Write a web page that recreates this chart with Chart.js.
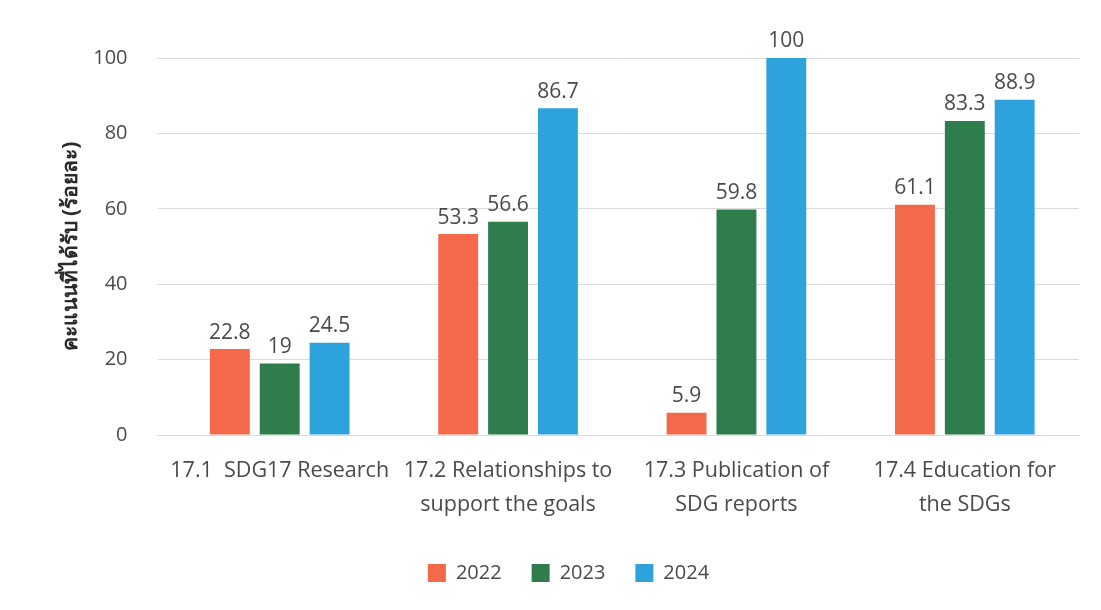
<!DOCTYPE html>
<html>
<head>
<meta charset="utf-8">
<script src="https://cdn.jsdelivr.net/npm/chart.js@4.4.1/dist/chart.umd.min.js"></script>
<style>
  html, body { margin: 0; padding: 0; background: #fff; }
  #wrap { width: 1101px; height: 610px; }
</style>
</head>
<body>
<div id="wrap"><canvas id="sdgChart" width="1101" height="610"></canvas></div>
<script>
// categories (multi-line labels) and the three yearly series
const categories = [
    ['17.1  SDG17 Research'],
    ['17.2 Relationships to', 'support the goals'],
    ['17.3 Publication of', 'SDG reports'],
    ['17.4 Education for', 'the SDGs']
];
const years = ['2022', '2023', '2024'];
const values2022 = [22.8, 53.3, 5.9, 61.1];
const values2023 = [19, 56.6, 59.8, 83.3];
const values2024 = [24.5, 86.7, 100, 88.9];
const yTicks = [0, 20, 40, 60, 80, 100];

const barColors = ['#f4694a', '#2f7c4c', '#2ea2dc'];
const textColor = '#4a4a4a';
const fontFamily = "'Open Sans', 'Noto Sans', 'DejaVu Sans', sans-serif";

// draws the value above each bar
const valueLabels = {
    id: 'valueLabels',
    afterDatasetsDraw(chart) {
        const ctx = chart.ctx;
        ctx.save();
        ctx.font = '21px ' + fontFamily;
        ctx.fillStyle = textColor;
        ctx.textAlign = 'center';
        ctx.textBaseline = 'bottom';
        chart.data.datasets.forEach((ds, i) => {
            chart.getDatasetMeta(i).data.forEach((bar, j) => {
                ctx.fillText(String(ds.data[j]), bar.x, bar.y - 6);
            });
        });
        ctx.restore();
    }
};

new Chart(document.getElementById('sdgChart').getContext('2d'), {
    type: 'bar',
    data: {
        labels: categories,
        datasets: [
            { label: years[0], data: values2022, backgroundColor: barColors[0] },
            { label: years[1], data: values2023, backgroundColor: barColors[1] },
            { label: years[2], data: values2024, backgroundColor: barColors[2] }
        ]
    },
    options: {
        responsive: false,
        animation: false,
        devicePixelRatio: 1,
        layout: { padding: { top: 58, right: 22, left: 58, bottom: 17 } },
        datasets: {
            bar: { categoryPercentage: 0.655, barPercentage: 0.8 }
        },
        plugins: {
            legend: {
                position: 'bottom',
                labels: {
                    color: textColor,
                    font: { family: fontFamily, size: 20 },
                    boxWidth: 18,
                    boxHeight: 18,
                    padding: 30
                }
            },
            tooltip: { enabled: false }
        },
        scales: {
            x: {
                grid: { display: false },
                border: { display: false },
                ticks: {
                    color: textColor,
                    font: { family: fontFamily, size: 21.5, lineHeight: 1.58 },
                    maxRotation: 0,
                    autoSkip: false,
                    padding: 11
                }
            },
            y: {
                min: 0,
                max: 100,
                afterBuildTicks(axis) {
                    axis.ticks = yTicks.map(v => ({ value: v }));
                },
                grid: { color: '#dcdcdc', lineWidth: 1 },
                border: { display: false },
                ticks: {
                    color: textColor,
                    font: { family: fontFamily, size: 20 },
                    padding: 30
                },
                title: {
                    display: true,
                    text: 'คะแนนที่ได้รับ (ร้อยละ)',
                    color: '#2a2a2a',
                    font: { family: fontFamily, size: 21, weight: 'bold' },
                    padding: { top: 0, bottom: -20 }
                }
            }
        }
    },
    plugins: [valueLabels]
});
</script>
</body>
</html>
